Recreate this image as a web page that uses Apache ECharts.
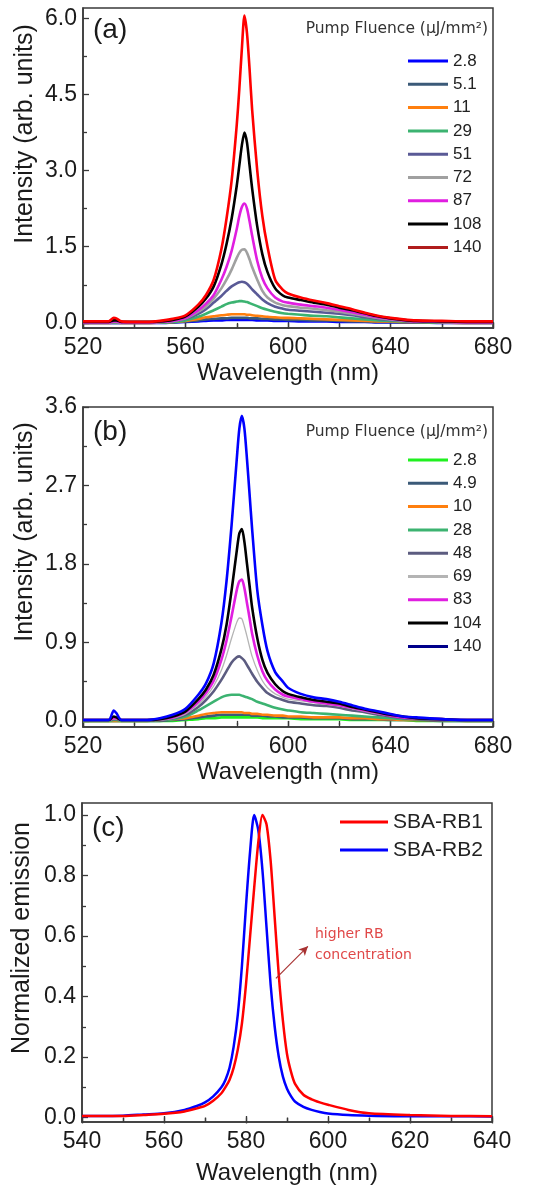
<!DOCTYPE html>
<html><head><meta charset="utf-8">
<script src="https://cdn.jsdelivr.net/npm/echarts@6/dist/echarts.min.js"></script>
<style>html,body{margin:0;padding:0;background:#fff}#c{width:555px;height:1189px}</style>
</head><body><div id="c"></div>
<script>
// ---------- DATA ----------
const wl = [520,530,532,533,535,540,545,550,555,560,565,568,571,574,576,578,580,581,582,583,584,585,586,588,590,592,595,598,600,605,610,615,620,625,630,635,640,645,650,660,670,680];

// Panel (a) pump fluence (uJ/mm2)
const aNames = ['2.8','5.1','11','29','51','72','87','108','140'];
const a2_8 = [0,0,0,0,0,0,0,0,0.01,0.02,0.03,0.04,0.05,0.05,0.06,0.06,0.06,0.06,0.06,0.06,0.06,0.06,0.06,0.05,0.05,0.05,0.04,0.04,0.04,0.03,0.03,0.03,0.02,0.02,0.02,0.01,0.01,0.01,0.01,0,0,0];
const a5_1 = [0,0,0,0,0,0,0,0.01,0.01,0.03,0.05,0.07,0.08,0.09,0.09,0.1,0.1,0.1,0.1,0.1,0.1,0.09,0.09,0.09,0.08,0.08,0.07,0.07,0.06,0.06,0.05,0.05,0.04,0.03,0.03,0.02,0.02,0.01,0.01,0.01,0,0];
const a11 = [0,0,0.01,0.01,0,0,0,0.01,0.02,0.04,0.08,0.11,0.13,0.15,0.16,0.17,0.17,0.17,0.17,0.17,0.16,0.16,0.15,0.14,0.13,0.12,0.11,0.1,0.1,0.09,0.08,0.07,0.06,0.05,0.04,0.03,0.03,0.02,0.02,0.01,0,0];
const a29 = [0.01,0.01,0.01,0.01,0.01,0.01,0.01,0.01,0.02,0.05,0.12,0.18,0.25,0.32,0.37,0.4,0.42,0.43,0.43,0.42,0.41,0.39,0.37,0.33,0.29,0.26,0.22,0.19,0.18,0.16,0.14,0.13,0.11,0.09,0.07,0.05,0.04,0.03,0.02,0.01,0.01,0.01];
const a51 = [0.01,0.01,0.02,0.02,0.01,0.01,0.01,0.02,0.04,0.08,0.18,0.27,0.4,0.53,0.63,0.72,0.78,0.8,0.81,0.8,0.77,0.72,0.66,0.56,0.46,0.39,0.32,0.28,0.26,0.24,0.22,0.2,0.18,0.15,0.11,0.08,0.06,0.04,0.03,0.02,0.01,0.01];
const a72 = [0.01,0.01,0.02,0.02,0.01,0.01,0.01,0.02,0.04,0.09,0.22,0.33,0.48,0.68,0.85,1.05,1.28,1.38,1.44,1.45,1.38,1.25,1.1,0.85,0.63,0.5,0.4,0.35,0.33,0.3,0.28,0.25,0.22,0.18,0.14,0.1,0.07,0.05,0.03,0.02,0.01,0.01];
const a87 = [0.01,0.01,0.03,0.03,0.01,0.01,0.01,0.02,0.04,0.1,0.25,0.38,0.55,0.85,1.1,1.42,1.85,2.1,2.28,2.35,2.25,2.0,1.72,1.22,0.88,0.68,0.5,0.42,0.4,0.36,0.33,0.3,0.26,0.21,0.16,0.11,0.08,0.05,0.03,0.02,0.01,0.01];
const a108 = [0.02,0.02,0.05,0.05,0.02,0.02,0.02,0.03,0.06,0.13,0.32,0.48,0.72,1.15,1.55,2.05,2.7,3.1,3.5,3.75,3.55,3.1,2.65,1.9,1.35,1.0,0.68,0.54,0.5,0.45,0.4,0.36,0.3,0.25,0.19,0.13,0.09,0.06,0.04,0.03,0.02,0.02];
const a140 = [0.03,0.03,0.1,0.09,0.03,0.02,0.02,0.04,0.08,0.15,0.36,0.55,0.85,1.45,2.05,2.8,3.9,4.6,5.4,6.05,5.7,5.0,4.2,3.0,2.1,1.5,0.85,0.65,0.58,0.5,0.44,0.39,0.33,0.27,0.2,0.14,0.1,0.07,0.05,0.04,0.03,0.03];

// Panel (b)
const bNames = ['2.8','4.9','10','28','48','69','83','104','140'];
const b2_8 = [0,0,0,0,0,0,0,0,0,0.01,0.02,0.03,0.03,0.04,0.04,0.04,0.04,0.04,0.04,0.04,0.04,0.04,0.04,0.04,0.03,0.03,0.03,0.03,0.03,0.02,0.02,0.02,0.02,0.01,0.01,0.01,0.01,0.01,0,0,0,0];
const b4_9 = [0,0,0,0,0,0,0,0,0.01,0.02,0.04,0.05,0.06,0.07,0.07,0.07,0.07,0.07,0.07,0.07,0.07,0.07,0.06,0.06,0.06,0.05,0.05,0.04,0.04,0.04,0.03,0.03,0.03,0.02,0.02,0.02,0.01,0.01,0.01,0,0,0];
const b10 = [0,0,0,0,0,0,0,0.01,0.02,0.03,0.06,0.08,0.09,0.1,0.1,0.1,0.1,0.1,0.1,0.09,0.09,0.09,0.08,0.08,0.07,0.07,0.06,0.06,0.05,0.05,0.04,0.04,0.04,0.03,0.03,0.02,0.02,0.01,0.01,0.01,0,0];
const b28 = [0,0,0.01,0.01,0,0,0,0.01,0.02,0.05,0.12,0.17,0.22,0.27,0.29,0.3,0.3,0.3,0.29,0.28,0.27,0.26,0.25,0.22,0.2,0.18,0.15,0.13,0.12,0.1,0.09,0.08,0.07,0.06,0.05,0.04,0.03,0.02,0.02,0.01,0,0];
const b48 = [0.01,0.01,0.02,0.02,0.01,0.01,0.01,0.01,0.03,0.07,0.16,0.24,0.34,0.47,0.57,0.67,0.73,0.74,0.72,0.69,0.64,0.59,0.54,0.45,0.38,0.32,0.27,0.24,0.22,0.2,0.18,0.17,0.15,0.12,0.1,0.07,0.05,0.03,0.02,0.01,0.01,0.01];
const b69 = [0.01,0.01,0.02,0.02,0.01,0.01,0.01,0.01,0.03,0.08,0.19,0.28,0.4,0.58,0.75,0.95,1.13,1.18,1.17,1.08,0.97,0.85,0.74,0.58,0.46,0.38,0.31,0.27,0.25,0.23,0.21,0.19,0.17,0.14,0.11,0.08,0.06,0.04,0.03,0.02,0.01,0.01];
const b83 = [0.01,0.01,0.03,0.03,0.01,0.01,0.01,0.02,0.04,0.1,0.22,0.32,0.46,0.7,0.92,1.2,1.5,1.6,1.62,1.52,1.35,1.18,1.0,0.75,0.57,0.46,0.36,0.3,0.28,0.25,0.22,0.2,0.18,0.15,0.12,0.09,0.06,0.04,0.03,0.02,0.01,0.01];
const b104 = [0.01,0.01,0.05,0.04,0.01,0.01,0.01,0.02,0.05,0.11,0.25,0.36,0.53,0.82,1.1,1.5,1.95,2.15,2.2,2.05,1.8,1.55,1.3,0.95,0.7,0.55,0.42,0.34,0.31,0.27,0.24,0.22,0.2,0.16,0.13,0.1,0.07,0.05,0.03,0.02,0.01,0.01];
const b140 = [0.01,0.01,0.12,0.09,0.01,0.01,0.01,0.03,0.07,0.14,0.3,0.43,0.66,1.12,1.6,2.25,3.0,3.35,3.5,3.35,3.0,2.6,2.2,1.5,1.1,0.8,0.56,0.45,0.38,0.31,0.27,0.25,0.22,0.18,0.14,0.11,0.08,0.05,0.04,0.02,0.01,0.01];

// Panel (c) normalized emission
const wlC = [540,550,555,560,565,568,570,572,574,575,576,577,578,579,580,581,582,583,584,585,586,587,588,589,590,591,592,594,596,598,600,605,610,620,630,640];
const rb1 = [0.005,0.005,0.008,0.012,0.02,0.03,0.038,0.055,0.08,0.1,0.125,0.165,0.225,0.31,0.44,0.6,0.76,0.91,1.0,0.97,0.85,0.66,0.47,0.32,0.21,0.15,0.11,0.075,0.06,0.05,0.042,0.025,0.014,0.008,0.005,0.004];
const rb2 = [0.005,0.006,0.01,0.014,0.025,0.038,0.05,0.07,0.1,0.125,0.165,0.235,0.34,0.5,0.7,0.88,1.0,0.95,0.82,0.63,0.44,0.3,0.2,0.135,0.095,0.07,0.052,0.035,0.025,0.018,0.013,0.008,0.006,0.004,0.004,0.003];

// tick labels
const yLabelsA = [0,1.5,3.0,4.5,6.0];
const yLabelsB = [0,0.9,1.8,2.7,3.6];
const yLabelsC = [0,0.2,0.4,0.6,0.8,1.0];

// ---------- STYLE ----------
const colA = ['#0000ff','#3b5a78','#ff7f0e','#3cb371','#5a5a96','#a0a0a0','#e01ee0','#000000','#ff0000'];
const colB = ['#20f020','#3b5a78','#ff7f0e','#3cb371','#5c5c80','#b4b4b4','#e01ee0','#000000','#0000ff'];
const legendOverrideA = {'140':'#b01c1c'};
const legendOverrideB = {'140':'#00008b'};
const FONT = 'Liberation Sans, Arial, sans-serif';

const aArr = [a2_8,a5_1,a11,a29,a51,a72,a87,a108,a140];
const bArr = [b2_8,b4_9,b10,b28,b48,b69,b83,b104,b140];

function mk(xs, ys){ return xs.map((x,i)=>[x, ys[i]]); }

const series = [];
aNames.forEach((n,i)=>{
  series.push({type:'line', name:'a:'+n, xAxisIndex:0, yAxisIndex:0, data:mk(wl,aArr[i]),
    showSymbol:false, smooth:0.25, color:colA[i], lineStyle:{width:2.6,color:colA[i]}, z:2+i});
});
bNames.forEach((n,i)=>{
  series.push({type:'line', name:'b:'+n, xAxisIndex:2, yAxisIndex:2, data:mk(wl,bArr[i]),
    showSymbol:false, smooth:0.25, color:colB[i], lineStyle:{width: n==='69'?1.3:2.6,color:colB[i]}, z:2+i});
});
series.push({type:'line', name:'c:SBA-RB1', xAxisIndex:4, yAxisIndex:4, data:mk(wlC,rb1),
  showSymbol:false, smooth:0.25, color:'#ff0000', lineStyle:{width:2.5,color:'#ff0000'}, z:3,
  markLine:{silent:true, symbol:['none','arrow'], symbolSize:[7,9], label:{show:false},
    lineStyle:{color:'#a83232', width:1.2, type:'solid'},
    data:[[{coord:[587.3,0.46]},{coord:[595.1,0.566]}]]}});
series.push({type:'line', name:'c:SBA-RB2', xAxisIndex:4, yAxisIndex:4, data:mk(wlC,rb2),
  showSymbol:false, smooth:0.25, color:'#0000ff', lineStyle:{width:2.5,color:'#0000ff'}, z:2});

const grids = [
  {left:83, top:8, width:410, height:320},
  {left:83, top:407, width:410, height:320},
  {left:82, top:803, width:410, height:319}
].map(g=>Object.assign(g,{show:true, borderColor:'#3a3a3a', borderWidth:1.5, backgroundColor:'transparent'}));

function xBottom(gi, min, max, interval, nameGap){
  return {type:'value', gridIndex:gi, position:'bottom', min, max, interval,
    name:'Wavelength (nm)', nameLocation:'middle', nameGap,
    nameTextStyle:{fontFamily:FONT, fontSize:24, color:'#1a1a1a'},
    axisLine:{show:true, onZero:false, lineStyle:{color:'#3a3a3a', width:1.5}},
    axisTick:{show:true, inside:true, length:6, lineStyle:{color:'#3a3a3a', width:1.3}},
    minorTick:{show:true, splitNumber:2, length:4, lineStyle:{color:'#3a3a3a', width:1.3}},
    axisLabel:{fontFamily:FONT, fontSize:23, color:'#1a1a1a', margin:8},
    splitLine:{show:false}};
}
function xTop(gi, min, max, interval){
  return {type:'value', gridIndex:gi, position:'top', min, max, interval,
    axisLine:{show:false},
    axisTick:{show:true, inside:true, length:6, lineStyle:{color:'#3a3a3a', width:1.3}},
    minorTick:{show:true, splitNumber:2, length:4, lineStyle:{color:'#3a3a3a', width:1.3}},
    axisLabel:{show:false}, splitLine:{show:false}};
}
function yMain(gi, min, max, labels){
  return {type:'value', gridIndex:gi, position:'left', min, max,
    axisLine:{show:true, onZero:false, lineStyle:{color:'#3a3a3a', width:1.5}},
    axisTick:{show:true, inside:true, length:6, customValues:labels, lineStyle:{color:'#3a3a3a', width:1.3}},
    axisLabel:{fontFamily:FONT, fontSize:23, color:'#1a1a1a', margin:6, customValues:labels,
      formatter:v=>Number(v).toFixed(1)},
    splitLine:{show:false}};
}
function yMinor(gi, min, max, labels){
  const mids = labels.slice(0,-1).map((v,i)=>+( (v+labels[i+1])/2 ).toFixed(3));
  return {type:'value', gridIndex:gi, position:'left', min, max,
    axisLine:{show:false},
    axisTick:{show:true, inside:true, length:4, customValues:mids, lineStyle:{color:'#3a3a3a', width:1.3}},
    axisLabel:{show:false}, splitLine:{show:false}};
}

function legendFor(names, prefix, top, override){
  return {orient:'vertical', left:408, top, padding:0, icon:'rect', itemWidth:40, itemHeight:3, itemGap:6.3,
    selectedMode:false,
    data:names.map(n=>{
      const o = {name:prefix+n};
      if (override[n]) o.itemStyle = {color:override[n]};
      return o;
    }),
    formatter:name=>name.split(':')[1],
    textStyle:{fontFamily:FONT, fontSize:17, color:'#222', lineHeight:17}};
}

const legends = [
  legendFor(aNames,'a:',52.5,legendOverrideA),
  legendFor(bNames,'b:',451.5,legendOverrideB),
  {orient:'vertical', left:340, top:811.5, padding:0, icon:'rect', itemWidth:48, itemHeight:3, itemGap:7,
   selectedMode:false, data:['c:SBA-RB1','c:SBA-RB2'], formatter:name=>name.split(':')[1],
   textStyle:{fontFamily:FONT, fontSize:21, color:'#222', lineHeight:21}}
];

function txt(text, x, y, size, opts){
  opts = opts || {};
  return {type:'text', x, y, rotation: opts.rot || 0, z:50, silent:true,
    style:{text, fontFamily: opts.family || FONT, fontSize:size, fill: opts.color || '#1a1a1a',
      textAlign: opts.align || 'left', textVerticalAlign:'middle'}};
}
const graphics = [
  txt('(a)', 93, 30, 28),
  txt('(b)', 93, 432, 28),
  txt('(c)', 92, 828, 28),
  txt('Pump Fluence (μJ/mm²)', 488, 29, 15.5, {align:'right', family:'DejaVu Sans', color:'#333'}),
  txt('Pump Fluence (μJ/mm²)', 488, 432, 15.5, {align:'right', family:'DejaVu Sans', color:'#333'}),
  txt('Intensity (arb. units)', 25, 134, 25, {rot:Math.PI/2, align:'center'}),
  txt('Intensity (arb. units)', 25, 532, 25, {rot:Math.PI/2, align:'center'}),
  txt('Normalized emission', 22, 938, 25, {rot:Math.PI/2, align:'center'}),
  txt('higher RB', 315, 934, 14, {family:'DejaVu Sans', color:'#e04848'}),
  txt('concentration', 315, 955, 14, {family:'DejaVu Sans', color:'#e04848'})
];

const chart = echarts.init(document.getElementById('c'), null, {renderer:'canvas', width:555, height:1189});
chart.setOption({
  animation:false,
  backgroundColor:'#ffffff',
  grid: grids,
  xAxis:[
    xBottom(0,520,680,40,33), xTop(0,520,680,40),
    xBottom(1,520,680,40,33), xTop(1,520,680,40),
    xBottom(2,540,640,20,39), xTop(2,540,640,20)
  ],
  yAxis:[
    yMain(0,-0.1,6.2,yLabelsA), yMinor(0,-0.1,6.2,yLabelsA),
    yMain(1,-0.07,3.6,yLabelsB), yMinor(1,-0.07,3.6,yLabelsB),
    yMain(2,-0.015,1.04,yLabelsC), yMinor(2,-0.015,1.04,yLabelsC)
  ],
  legend: legends,
  graphic: graphics,
  series
});
</script></body></html>
